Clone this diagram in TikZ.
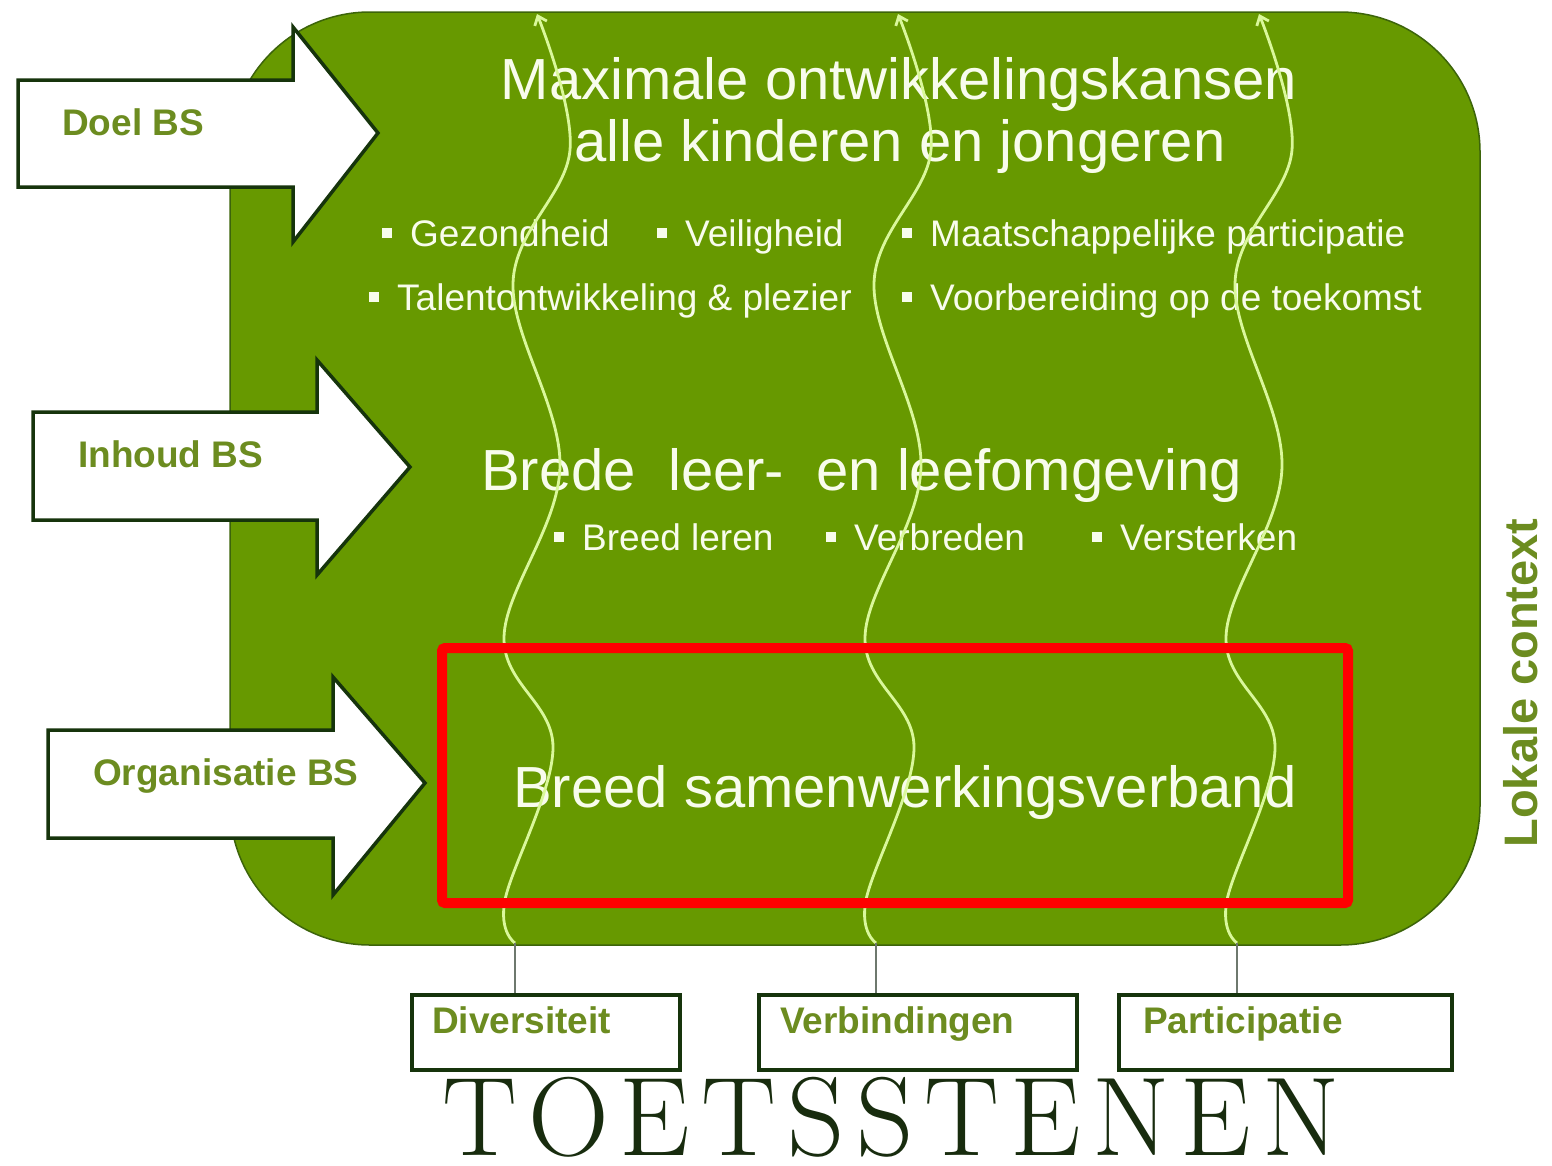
\documentclass[tikz,border=0pt]{standalone}
\usepackage{fontspec}
\newfontfamily\arial{Liberation Sans}
\newfontfamily\toetsfont[LetterSpace=10]{Latin Modern Roman}
\usetikzlibrary{arrows.meta}
\definecolor{gfill}{RGB}{103,153,0}
\definecolor{gedge}{RGB}{60,100,10}
\definecolor{dkgreen}{RGB}{22,52,12}
\definecolor{olive}{RGB}{108,140,32}
\definecolor{cream}{RGB}{248,252,236}
\definecolor{wavecol}{RGB}{218,248,155}
\definecolor{conngray}{RGB}{110,120,110}
\definecolor{toets}{RGB}{24,44,14}
\newcommand{\sqb}{\rule[8pt]{10pt}{10pt}\hspace{18pt}}
\begin{document}
\begin{tikzpicture}[x=1pt,y=-1pt,
  blockarrow/.style={draw=dkgreen, line width=3.5pt, fill=white, line join=miter},
  sidelabel/.style={font=\arial\bfseries\fontsize{37}{40}\selectfont, text=olive, inner sep=0pt, anchor=base west},
  bigtext/.style={font=\arial\fontsize{58}{62}\selectfont, text=cream, inner sep=0pt},
  item/.style={font=\arial\fontsize{37}{40}\selectfont, text=cream, inner sep=0pt, anchor=base west},
  wave/.style={draw=wavecol, line width=2.8pt, -{Straight Barb[length=8pt,width=13pt]}},
  tbox/.style={draw=dkgreen, line width=3.5pt, fill=white, anchor=north west, inner sep=0pt},
  conn/.style={draw=conngray, line width=2.2pt}
]
\useasboundingbox (0,0) rectangle (1552,1165);
\fill[white] (0,0) rectangle (1552,1165);

% green rounded panel
\draw[draw=gedge, line width=1.5pt, fill=gfill, rounded corners=140pt] (230,12) rectangle (1480,945);

% block arrows
\draw[blockarrow] (18,80) -- (293,80) -- (293,27) -- (378,133) -- (293,242) -- (293,187) -- (18,187) -- cycle;
\draw[blockarrow] (33,412) -- (317,412) -- (317,360) -- (410,467) -- (317,575) -- (317,520) -- (33,520) -- cycle;
\draw[blockarrow] (48,730) -- (333,730) -- (333,677) -- (425,783) -- (333,895) -- (333,838) -- (48,838) -- cycle;
\node[sidelabel] (doel) at (62,135) {Doel BS};
\node[sidelabel] (inhoud) at (78,467) {Inhoud BS};
\node[sidelabel] (organisatie) at (93,785) {Organisatie BS};

% texts in panel
\node[bigtext, anchor=base] (t1) at (899,99) {Maximale ontwikkelingskansen};
\node[bigtext, anchor=base] (t2) at (900,161) {alle kinderen en jongeren};
\node[item] (i1) at (382,246) {\sqb Gezondheid};
\node[item] (i2) at (657,246) {\sqb Veiligheid};
\node[item] (i3) at (902,246) {\sqb Maatschappelijke participatie};
\node[item] (i4) at (369,310) {\sqb Talentontwikkeling \& plezier};
\node[item] (i5) at (902,310) {\sqb Voorbereiding op de toekomst};
\node[bigtext, anchor=base west] (t3) at (481,490) {Brede~~leer-~~en leefomgeving};
\node[item] (i6) at (554,550) {\sqb Breed leren};
\node[item] (i7) at (826,550) {\sqb Verbreden};
\node[item] (i8) at (1092,550) {\sqb Versterken};
\node[bigtext, anchor=base west] (t4) at (513,807) {Breed samenwerkingsverband};

% wavy arrows
\foreach \dx/\nm in {0/w1,361/w2,722/w3}{
  \begin{scope}[xshift=\dx pt]
    \coordinate (\nm) at (515,943);
    \draw[wave] plot[smooth, tension=0.6] coordinates {(515,943) (505,900) (553,747) (504,637) (560,467) (513,283) (570,150) (537,14)};
  \end{scope}
}

% red frame
\draw[red, line width=10pt, rounded corners=3pt] (442,648) rectangle (1348,903);

% toetsstenen boxes
\node[tbox, minimum width=268pt, minimum height=75pt] (div) at (410,993) {};
\node[tbox, minimum width=318pt, minimum height=75pt] (verb) at (757,993) {};
\node[tbox, minimum width=333pt, minimum height=75pt] (part) at (1117,993) {};
\node[sidelabel] (divt) at (432,1033) {Diversiteit};
\node[sidelabel] (verbt) at (780,1033) {Verbindingen};
\node[sidelabel] (partt) at (1143,1033) {Participatie};
\draw[conn] (w1) -- (w1 |- div.north);
\draw[conn] (w2) -- (w2 |- verb.north);
\draw[conn] (w3) -- (w3 |- part.north);

\node[font=\toetsfont\fontsize{112}{114}\selectfont, text=toets, inner sep=0pt, anchor=base west] (toetsstenen) at (442,1155) {TOETSSTENEN};

\node[font=\arial\bfseries\fontsize{47}{50}\selectfont, text=olive, inner sep=0pt, rotate=90] (lokaal) at (1521,683) {Lokale context};
\end{tikzpicture}
\end{document}
